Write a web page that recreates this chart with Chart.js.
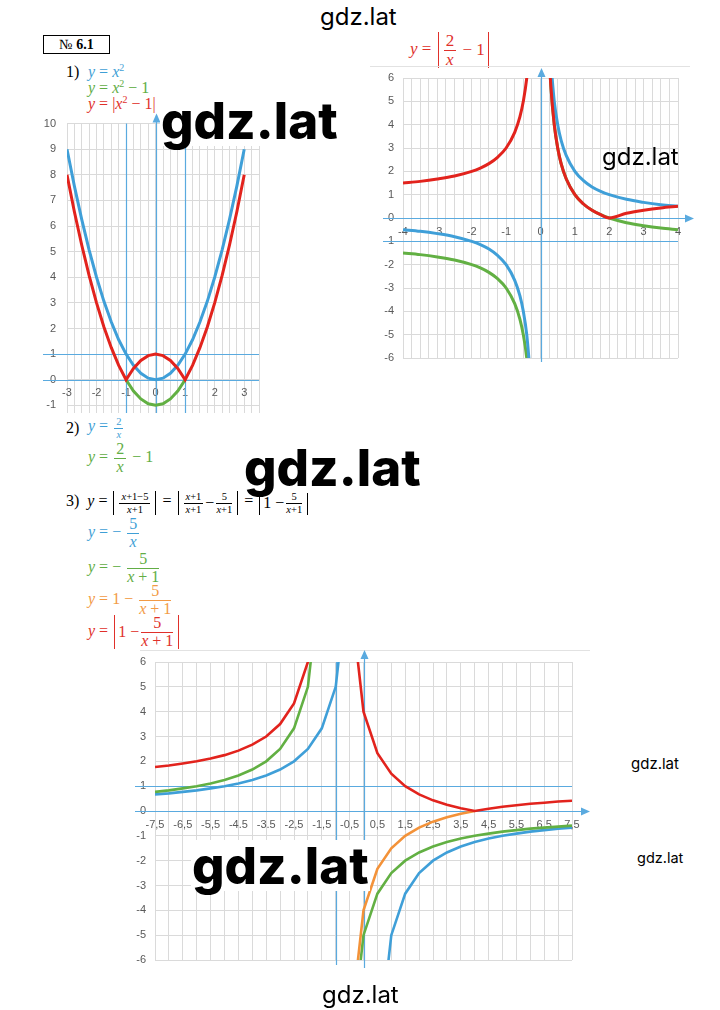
<!DOCTYPE html>
<html>
<head>
<meta charset="utf-8">
<script src="https://cdn.jsdelivr.net/npm/chart.js@4.4.1/dist/chart.umd.min.js"></script>
<style>
body{margin:0;background:#fff;width:720px;height:1010px;position:relative;overflow:hidden;font-family:"Liberation Serif",serif}
canvas{position:absolute}
.wm{position:absolute;font-family:Inter,Roboto,sans-serif;color:#000;line-height:1;white-space:nowrap;z-index:5}
.big{font-weight:800;font-size:51px;background:#fff;padding:0 1px}
.ln{position:absolute;display:flex;align-items:center;height:40px;font-size:16px;white-space:nowrap}
.ln i{font-style:italic}
.fr{display:inline-flex;flex-direction:column;align-items:stretch;vertical-align:middle;margin:0 2px;line-height:1.05;text-align:center}
.fr .nu{border-bottom:1px solid currentColor;padding:0 2px}
.sm{font-size:10.5px}
.ab{display:inline-flex;align-items:center;vertical-align:middle;border-left:1.3px solid currentColor;border-right:1.3px solid currentColor;padding:0 3px;margin:0 2px}
.sep{position:absolute;height:1px;background:#e2e2e2}
</style>
</head>
<body>

<div style="position:absolute;left:43px;top:35px;width:65px;height:17px;border:1px solid #000;font:14px 'Liberation Serif',serif;line-height:17px;text-align:center">№ <b>6.1</b></div>

<div class="ln" style="left:66px;top:52px;color:#000"><span>1)</span></div>
<div class="ln" style="left:88px;top:52px;color:#3f9fd6"><span><i>y</i> = <i>x</i><sup style="font-size:10px">2</sup></span></div>
<div class="ln" style="left:88px;top:68px;color:#62ad45"><span><i>y</i> = <i>x</i><sup style="font-size:10px">2</sup> − 1</span></div>
<div class="ln" style="left:88px;top:84px;color:#e0302a"><span><i>y</i> = |<i>x</i><sup style="font-size:10px">2</sup> − 1|</span></div>

<div class="ln" style="left:410px;top:30px;color:#e0302a;font-size:17px"><span><i>y</i>&nbsp;=&nbsp;<span class="ab"><span class="fr"><span class="nu">2</span><span><i>x</i></span></span>&nbsp;−&nbsp;1</span></span></div>
<div class="sep" style="left:370px;top:66px;width:320px"></div>

<div class="ln" style="left:66px;top:408px;color:#000"><span>2)</span></div>
<div class="ln" style="left:88px;top:408px;color:#3f9fd6"><span><i>y</i> = <span class="fr sm"><span class="nu">2</span><span><i>x</i></span></span></span></div>
<div class="ln" style="left:88px;top:438px;color:#62ad45"><span><i>y</i> = <span class="fr"><span class="nu">2</span><span><i>x</i></span></span> − 1</span></div>

<div class="ln" style="left:66px;top:483px;color:#000"><span>3)&nbsp; <i>y</i> = <span class="ab"><span class="fr sm"><span class="nu"><i>x</i>+1−5</span><span><i>x</i>+1</span></span></span> = <span class="ab"><span class="fr sm"><span class="nu"><i>x</i>+1</span><span><i>x</i>+1</span></span> − <span class="fr sm"><span class="nu">5</span><span><i>x</i>+1</span></span></span> = <span class="ab">1 − <span class="fr sm"><span class="nu">5</span><span><i>x</i>+1</span></span></span></span></div>
<div class="ln" style="left:88px;top:513px;color:#3f9fd6"><span><i>y</i> = − <span class="fr"><span class="nu">5</span><span><i>x</i></span></span></span></div>
<div class="ln" style="left:88px;top:548px;color:#62ad45"><span><i>y</i> = − <span class="fr"><span class="nu">5</span><span><i>x</i> + 1</span></span></span></div>
<div class="ln" style="left:88px;top:580px;color:#f29a45"><span><i>y</i> = 1 − <span class="fr"><span class="nu">5</span><span><i>x</i> + 1</span></span></span></div>
<div class="ln" style="left:88px;top:612px;color:#e0302a"><span><i>y</i> = <span class="ab">1 − <span class="fr"><span class="nu">5</span><span><i>x</i> + 1</span></span></span></span></div>
<div class="sep" style="left:140px;top:650px;width:450px"></div>

<canvas id="c1" width="232" height="329" style="left:35px;top:106px"></canvas>
<canvas id="c2" width="325" height="320" style="left:372px;top:60px"></canvas>
<canvas id="c3" width="472" height="342" style="left:126px;top:640px"></canvas>

<div class="wm" style="left:320px;top:5px;font-size:24px">gdz.lat</div>
<div class="wm big" style="left:160px;top:95px">gdz.lat</div>
<div class="wm" style="left:602px;top:145px;font-size:24px">gdz.lat</div>
<div class="wm big" style="left:243px;top:442px">gdz.lat</div>
<div class="wm" style="left:631px;top:756px;font-size:15px">gdz.lat</div>
<div class="wm" style="left:637px;top:851px;font-size:14.5px">gdz.lat</div>
<div class="wm big" style="left:191px;top:840px">gdz.lat</div>
<div class="wm" style="left:322px;top:983px;font-size:24px">gdz.lat</div>

<script>
// 1) y = x², y = x² − 1, y = |x² − 1|
const x1 = [-3,-2.75,-2.5,-2.25,-2,-1.75,-1.5,-1.25,-1,-0.75,-0.5,-0.25,0,0.25,0.5,0.75,1,1.25,1.5,1.75,2,2.25,2.5,2.75,3];
const blue1 = [9,7.56,6.25,5.06,4,3.06,2.25,1.56,1,0.56,0.25,0.06,0,0.06,0.25,0.56,1,1.56,2.25,3.06,4,5.06,6.25,7.56,9];
const red1 = [8,6.56,5.25,4.06,3,2.06,1.25,0.56,0,0.44,0.75,0.94,1,0.94,0.75,0.44,0,0.56,1.25,2.06,3,4.06,5.25,6.56,8];
const x1Green = [-1,-0.75,-0.5,-0.25,0,0.25,0.5,0.75,1];
const green1 = [0,-0.44,-0.75,-0.94,-1,-0.94,-0.75,-0.44,0];
const x1Labels = [-3,-2,-1,0,1,2,3];
const y1Labels = [-1,0,1,2,3,4,5,6,7,8,9,10];

// 2) y = 2/x, y = 2/x − 1, y = |2/x − 1|
const x2Left = [-4,-3.5,-3,-2.5,-2,-1.75,-1.5,-1.25,-1,-0.75,-0.6,-0.5,-0.4,-0.3];
const blue2Left = [-0.5,-0.57,-0.67,-0.8,-1,-1.14,-1.33,-1.6,-2,-2.67,-3.33,-4,-5,-6.67];
const green2Left = [-1.5,-1.57,-1.67,-1.8,-2,-2.14,-2.33,-2.6,-3,-3.67,-4.33,-5,-6,-7.67];
const red2Left = [1.5,1.57,1.67,1.8,2,2.14,2.33,2.6,3,3.67,4.33,5,6,7.67];
const x2BlueRight = [0.3,0.4,0.5,0.6,0.75,1,1.25,1.5,1.75,2,2.5,3,3.5,4];
const blue2Right = [6.67,5,4,3.33,2.67,2,1.6,1.33,1.14,1,0.8,0.67,0.57,0.5];
const x2Right = [0.25,0.3,0.4,0.5,0.6,0.75,1,1.25,1.5,1.75,2,2.5,3,3.5,4];
const green2Right = [7,5.67,4,3,2.33,1.67,1,0.6,0.33,0.14,0,-0.2,-0.33,-0.43,-0.5];
const red2Right = [7,5.67,4,3,2.33,1.67,1,0.6,0.33,0.14,0,0.2,0.33,0.43,0.5];
const x2Labels = [-4,-3,-2,-1,0,1,2,3,4];
const y2Labels = [-6,-5,-4,-3,-2,-1,0,1,2,3,4,5,6];

// 3) y = −5/x, y = −5/(x+1), y = 1 − 5/(x+1), y = |1 − 5/(x+1)|
const x3BlueLeft = [-7.5,-7,-6.5,-6,-5.5,-5,-4.5,-4,-3.5,-3,-2.5,-2,-1.5,-1,-0.5];
const blue3Left = [0.67,0.71,0.77,0.83,0.91,1,1.11,1.25,1.43,1.67,2,2.5,3.33,5,10];
const x3BlueRight = [0.5,1,1.5,2,2.5,3,3.5,4,4.5,5,5.5,6,6.5,7,7.5];
const blue3Right = [-10,-5,-3.33,-2.5,-2,-1.67,-1.43,-1.25,-1.11,-1,-0.91,-0.83,-0.77,-0.71,-0.67];
const x3Left = [-7.5,-7,-6.5,-6,-5.5,-5,-4.5,-4,-3.5,-3,-2.5,-2,-1.5];
const x3Right = [-0.5,0,0.5,1,1.5,2,2.5,3,3.5,4,4.5,5,5.5,6,6.5,7,7.5];
const green3Left = [0.77,0.83,0.91,1,1.11,1.25,1.43,1.67,2,2.5,3.33,5,10];
const green3Right = [-10,-5,-3.33,-2.5,-2,-1.67,-1.43,-1.25,-1.11,-1,-0.91,-0.83,-0.77,-0.71,-0.67,-0.63,-0.59];
const x3Orange = [-0.5,0,0.5,1,1.5,2,2.5,3,3.5,4];
const orange3 = [-9,-4,-2.33,-1.5,-1,-0.67,-0.43,-0.25,-0.11,0];
const red3Left = [1.77,1.83,1.91,2,2.11,2.25,2.43,2.67,3,3.5,4.33,6,11];
const red3Right = [9,4,2.33,1.5,1,0.67,0.43,0.25,0.11,0,0.09,0.17,0.23,0.29,0.33,0.38,0.41];
const x3TickValues = [-7.5,-6.5,-5.5,-4.5,-3.5,-2.5,-1.5,-0.5,0.5,1.5,2.5,3.5,4.5,5.5,6.5,7.5];
const x3TickLabels = ['-7,5','-6,5','-5,5','-4.5','-3.5','-2,5','-1,5','-0,5','0,5','1,5','2,5','3,5','4,5','5,5','6,5','7,5'];
const y3Labels = [-6,-5,-4,-3,-2,-1,0,1,2,3,4,5,6];

const BLUE = '#3f9fd8', GREEN = '#62b043', RED = '#e2231d', ORANGE = '#f39239';
const AXIS = '#5aaadf', GRID = '#dadada', LABEL = '#595959';

const pts = (xs, ys) => xs.map((x, i) => ({x: x, y: ys[i]}));
const line = (xs, ys, color, extra) => Object.assign({
    data: pts(xs, ys), borderColor: color, borderWidth: 3, showLine: true,
    pointRadius: 0, tension: 0, fill: false
}, extra || {});

// blue axis lines, drawn in data units through the scales
const guides = {
    id: 'guides',
    beforeDatasetsDraw(chart, args, opts) {
        const {ctx, chartArea: a, scales: {x, y}} = chart;
        ctx.save();
        ctx.strokeStyle = AXIS;
        ctx.fillStyle = AXIS;
        ctx.lineWidth = 1.2;
        (opts.v || []).forEach(g => {
            const px = Math.round(x.getPixelForValue(g.at)) + 0.5;
            const top = a.top - (g.up || 0);
            ctx.beginPath();
            ctx.moveTo(px, top);
            ctx.lineTo(px, a.bottom + (g.down || 0));
            ctx.stroke();
            if (g.arrow) {
                ctx.beginPath();
                ctx.moveTo(px, top - 2);
                ctx.lineTo(px - 4, top + 7);
                ctx.lineTo(px + 4, top + 7);
                ctx.fill();
            }
        });
        (opts.h || []).forEach(g => {
            const py = Math.round(y.getPixelForValue(g.at)) + 0.5;
            const right = a.right + (g.right || 0);
            ctx.beginPath();
            ctx.moveTo(a.left - (g.left || 0), py);
            ctx.lineTo(right, py);
            ctx.stroke();
            if (g.arrow) {
                ctx.beginPath();
                ctx.moveTo(right + 2, py);
                ctx.lineTo(right - 7, py - 4);
                ctx.lineTo(right - 7, py + 4);
                ctx.fill();
            }
        });
        ctx.restore();
    }
};

function ticksEvery(min, max, step) {
    return scale => {
        const t = [];
        for (let v = min; v <= max + 1e-9; v += step) t.push({value: Math.round(v * 1000) / 1000});
        scale.ticks = t;
    };
}

function makeChart(id, datasets, o) {
    return new Chart(document.getElementById(id), {
        type: 'scatter',
        data: {datasets: datasets},
        options: {
            responsive: false,
            animation: false,
            events: [],
            layout: {padding: o.padding},
            plugins: {legend: {display: false}, tooltip: {enabled: false}, guides: o.guides},
            scales: {
                x: {
                    type: 'linear', min: o.xMin, max: o.xMax,
                    position: {y: 0},
                    afterBuildTicks: ticksEvery(o.xFrom, o.xMax, o.xStep),
                    afterFit: scale => { scale.height = 0; },
                    grid: {color: GRID, drawTicks: false},
                    border: {display: false},
                    ticks: {
                        autoSkip: false, maxRotation: 0, padding: 7, color: LABEL,
                        font: {family: 'Liberation Sans', size: 11},
                        callback: v => {
                            const i = o.xTickValues.findIndex(t => Math.abs(t - v) < 1e-6);
                            return i < 0 ? '' : o.xTickLabels[i];
                        }
                    }
                },
                y: {
                    type: 'linear', min: o.yMin, max: o.yMax,
                    afterBuildTicks: scale => { scale.ticks = o.yLabels.map(v => ({value: v})); },
                    afterFit: scale => { scale.width = o.yWidth; },
                    grid: {color: GRID, drawTicks: false},
                    border: {display: false},
                    ticks: {
                        autoSkip: false, padding: o.yPad, color: LABEL,
                        font: {family: 'Liberation Sans', size: 11},
                        callback: v => String(v)
                    }
                }
            }
        },
        plugins: [guides]
    });
}

// first dataset in the list is drawn on top
makeChart('c1', [
    line(x1, red1, RED),
    line(x1Green, green1, GREEN),
    line(x1, blue1, BLUE)
], {
    xMin: -3, xMax: 3.5, xFrom: -3, xStep: 0.25, yMin: -1.3, yMax: 10,
    xTickValues: x1Labels, xTickLabels: x1Labels.map(String), yLabels: y1Labels,
    yWidth: 32, yPad: 11,
    padding: {left: 0, right: 8, top: 17, bottom: 22},
    guides: {
        v: [{at: -1}, {at: 1}, {at: 0, up: 8, arrow: true}],
        h: [{at: 0, left: 24}, {at: 1, left: 24}]
    }
});

makeChart('c2', [
    line(x2Left, red2Left, RED, {cubicInterpolationMode: 'monotone'}),
    line(x2Right, red2Right, RED, {cubicInterpolationMode: 'monotone'}),
    line(x2Left, blue2Left, BLUE, {cubicInterpolationMode: 'monotone'}),
    line(x2BlueRight, blue2Right, BLUE, {cubicInterpolationMode: 'monotone'}),
    line(x2Left, green2Left, GREEN, {cubicInterpolationMode: 'monotone'}),
    line(x2Right, green2Right, GREEN, {cubicInterpolationMode: 'monotone'})
], {
    xMin: -4, xMax: 4, xFrom: -4, xStep: 0.25, yMin: -6, yMax: 6,
    xTickValues: x2Labels, xTickLabels: x2Labels.map(String), yLabels: y2Labels,
    yWidth: 31, yPad: 9,
    padding: {left: 0, right: 19, top: 18, bottom: 22},
    guides: {
        v: [{at: 0, up: 8, down: 4, arrow: true}],
        h: [{at: 0, left: 20, right: 14, arrow: true}, {at: -1, left: 20}]
    }
});

makeChart('c3', [
    line(x3Left, red3Left, RED, {borderWidth: 2.6}),
    line(x3Right, red3Right, RED, {borderWidth: 2.6}),
    line(x3Orange, orange3, ORANGE, {borderWidth: 2.6}),
    line(x3Left, green3Left, GREEN, {borderWidth: 2.6}),
    line(x3Right, green3Right, GREEN, {borderWidth: 2.6}),
    line(x3BlueLeft, blue3Left, BLUE, {borderWidth: 2.6}),
    line(x3BlueRight, blue3Right, BLUE, {borderWidth: 2.6})
], {
    xMin: -7.5, xMax: 7.5, xFrom: -7.5, xStep: 0.5, yMin: -6, yMax: 6,
    xTickValues: x3TickValues, xTickLabels: x3TickLabels, yLabels: y3Labels,
    yWidth: 29, yPad: 9,
    padding: {left: 0, right: 26, top: 22, bottom: 22},
    guides: {
        v: [{at: -1, down: 5}, {at: 0, up: 10, down: 8, arrow: true}],
        h: [{at: 0, left: 20, right: 16, arrow: true}, {at: 1, left: 20}]
    }
});
</script>
</body>
</html>
